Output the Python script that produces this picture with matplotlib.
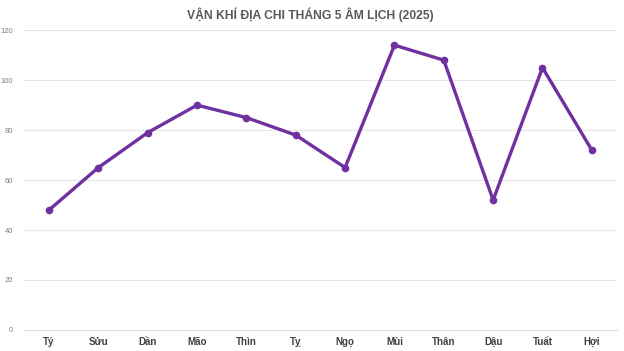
import matplotlib
matplotlib.use("Agg")
import matplotlib.pyplot as plt

# Data
labels = ["Tý", "Sửu", "Dần", "Mão", "Thìn", "Tỵ", "Ngọ", "Mùi", "Thân", "Dậu", "Tuất", "Hợi"]
values = [48, 65, 79, 90, 85, 78, 65, 114, 108, 52, 105, 72]
yticks = [0, 20, 40, 60, 80, 100, 120]

plt.rcParams['font.family'] = ['Liberation Sans', 'DejaVu Sans']

fig = plt.figure(figsize=(6.24, 3.51), dpi=100)
ax = fig.add_axes([0.039, 0.06, 0.949, 0.854])

x = list(range(len(labels)))
ax.plot(x, values, color='#7030A0', linewidth=2.4, marker='o', markersize=4.5,
        solid_capstyle='round', zorder=3)

ax.set_xlim(-0.5, len(labels) - 0.5)
ax.set_ylim(0, 120)
ax.set_yticks(yticks)
ax.set_xticks(x)
ax.set_xticklabels(labels, fontsize=7, color='#404040', fontweight='bold')
ax.tick_params(axis='y', labelsize=5.5, labelcolor='#808080', length=0, pad=8)
ax.tick_params(axis='x', length=0, pad=5)

ax.grid(axis='y', color='#E6E6E6', linewidth=0.8)
ax.set_axisbelow(True)
for side in ['top', 'right', 'left']:
    ax.spines[side].set_visible(False)
ax.spines['bottom'].set_color('#E0E0E0')
ax.spines['bottom'].set_linewidth(0.8)

fig.text(0.497, 0.957, "VẬN KHÍ ĐỊA CHI THÁNG 5 ÂM LỊCH (2025)", ha='center', va='center',
         fontsize=8.7, fontweight='bold', color='#595959')

fig.savefig("out.png", dpi=100)
